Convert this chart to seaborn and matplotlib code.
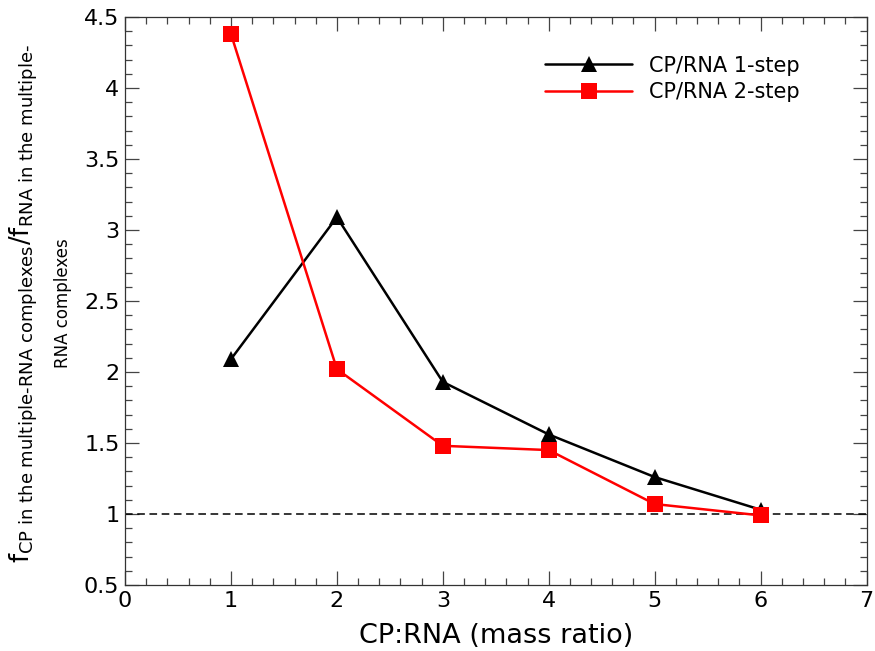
import numpy as np
import pandas as pd
import matplotlib
matplotlib.use("Agg")
import matplotlib.pyplot as plt
from matplotlib.ticker import MultipleLocator
import seaborn as sns

# data
mass_ratio = [1, 2, 3, 4, 5, 6]
one_step = [2.09, 3.09, 1.93, 1.56, 1.26, 1.03]
two_step = [4.38, 2.02, 1.48, 1.45, 1.07, 0.99]
series_names = ["CP/RNA 1-step", "CP/RNA 2-step"]

df = pd.DataFrame({
    "ratio": mass_ratio * 2,
    "value": one_step + two_step,
    "series": [series_names[0]] * 6 + [series_names[1]] * 6,
})

sns.set_style("ticks")
plt.rcParams["font.family"] = ["DejaVu Sans"]
plt.rcParams["mathtext.fontset"] = "dejavusans"
plt.rcParams["text.color"] = "black"
plt.rcParams["axes.labelcolor"] = "black"
plt.rcParams["xtick.color"] = "black"
plt.rcParams["ytick.color"] = "black"

fig = plt.figure(figsize=(8.75, 6.51), dpi=100)
ax = fig.add_axes([0.1429, 0.1014, 0.8474, 0.8726])

sns.lineplot(data=df, x="ratio", y="value", hue="series", style="series",
             palette={series_names[0]: "black", series_names[1]: "red"},
             markers={series_names[0]: "^", series_names[1]: "s"},
             dashes=False, markersize=11, markeredgewidth=0, linewidth=1.8,
             ax=ax, zorder=3)

ax.axhline(1.0, color="black", linestyle=(0, (5, 3)), linewidth=1.1, zorder=2)

ax.set_xlim(0, 7)
ax.set_ylim(0.5, 4.5)
ax.xaxis.set_major_locator(MultipleLocator(1))
ax.xaxis.set_minor_locator(MultipleLocator(0.2))
ax.yaxis.set_major_locator(MultipleLocator(0.5))
ax.yaxis.set_minor_locator(MultipleLocator(0.1))
ax.yaxis.set_major_formatter(matplotlib.ticker.FuncFormatter(lambda v, _: f"{v:g}"))
ax.tick_params(which="both", direction="in", top=True, right=True,
               color="#444444", width=0.9)
ax.tick_params(which="major", length=10, labelsize=16, pad=4)
ax.tick_params(which="minor", length=5)
for sp in ax.spines.values():
    sp.set_linewidth(0.9)
    sp.set_color("#333333")

ax.set_xlabel("CP:RNA (mass ratio)", fontsize=19.5, labelpad=9)
ax.set_ylabel(r"$\mathregular{f_{\text{CP in the multiple-RNA complexes}}/f_{\text{RNA in the multiple-}}}$",
              fontsize=18.5)
ax.yaxis.set_label_coords(-0.115, 0.495)
fig.text(0.072, 0.535, "RNA complexes", rotation=90, fontsize=12,
         ha="center", va="center")

leg = ax.legend(loc="upper right", bbox_to_anchor=(0.935, 0.965), frameon=False,
                fontsize=15, handlelength=4.2, handletextpad=0.8,
                labelspacing=0.3)

fig.savefig("out.png", dpi=100)
